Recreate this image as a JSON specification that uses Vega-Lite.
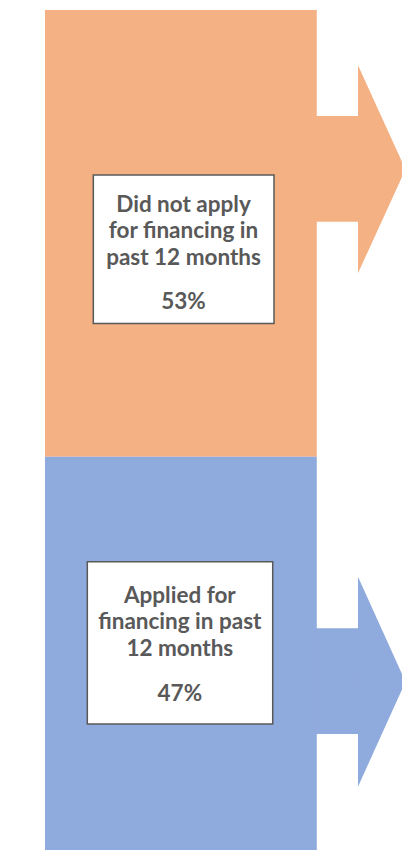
{
  "$schema": "https://vega.github.io/schema/vega-lite/v6.json",
  "width": 402,
  "height": 843,
  "autosize": {"type": "none"},
  "padding": {"left": 0, "right": 0, "top": 10, "bottom": 0},
  "background": "white",
  "config": {"view": {"stroke": null}},
  "datasets": {
    "shares": [
      {"category": "Did not apply for financing in past 12 months", "share": 53},
      {"category": "Applied for financing in past 12 months", "share": 47}
    ],
    "shafts": [
      {"category": "Did not apply for financing in past 12 months", "x_from": 78.6, "x_to": 89.1, "y_low": 74.89, "y_high": 87.43},
      {"category": "Applied for financing in past 12 months", "x_from": 78.6, "x_to": 89.1, "y_low": 14.12, "y_high": 26.65}
    ],
    "heads": [
      {"category": "Did not apply for financing in past 12 months", "x": 89.05, "y_low": 68.77, "y_high": 93.44},
      {"category": "Did not apply for financing in past 12 months", "x": 100.87, "y_low": 81.1, "y_high": 81.1},
      {"category": "Applied for financing in past 12 months", "x": 89.05, "y_low": 7.86, "y_high": 32.78},
      {"category": "Applied for financing in past 12 months", "x": 100.87, "y_low": 20.32, "y_high": 20.32}
    ],
    "boxes": [
      {"category": "Did not apply for financing in past 12 months", "label": "Did not apply|for financing in|past 12 months", "pct": "53%", "x_left": 23.21, "x_right": 68.16, "y_low": 62.81, "y_high": 80.43, "x_text": 45.65, "y_label": 76.07, "y_pct": 64.5},
      {"category": "Applied for financing in past 12 months", "label": "Applied for|financing in past|12 months", "pct": "47%", "x_left": 21.72, "x_right": 67.84, "y_low": 15.3, "y_high": 34.56, "x_text": 44.73, "y_label": 29.66, "y_pct": 18.03}
    ]
  },
  "layer": [
    {
      "data": {"name": "shares"},
      "transform": [
        {"stack": "share", "groupby": [], "as": ["lo", "hi"], "sort": [{"field": "category", "order": "ascending"}]}
      ],
      "mark": {"type": "rect"},
      "encoding": {
        "x": {"datum": 11.19, "type": "quantitative", "axis": null, "scale": {"domain": [0, 100], "nice": false, "zero": false}},
        "x2": {"datum": 78.8},
        "y": {"field": "lo", "type": "quantitative", "axis": null, "scale": {"domain": [0, 100], "nice": false, "zero": false}},
        "y2": {"field": "hi"},
        "color": {"field": "category", "type": "nominal", "legend": null, "scale": {"domain": ["Did not apply for financing in past 12 months", "Applied for financing in past 12 months"], "range": ["#F4B183", "#8FAADC"]}}
      }
    },
    {
      "data": {"name": "shafts"},
      "mark": {"type": "rect"},
      "encoding": {
        "x": {"field": "x_from", "type": "quantitative", "axis": null, "scale": {"domain": [0, 100], "nice": false, "zero": false}},
        "x2": {"field": "x_to"},
        "y": {"field": "y_low", "type": "quantitative", "axis": null, "scale": {"domain": [0, 100], "nice": false, "zero": false}},
        "y2": {"field": "y_high"},
        "color": {"field": "category", "type": "nominal", "legend": null, "scale": {"domain": ["Did not apply for financing in past 12 months", "Applied for financing in past 12 months"], "range": ["#F4B183", "#8FAADC"]}}
      }
    },
    {
      "data": {"name": "heads"},
      "mark": {"type": "area", "orient": "vertical", "clip": false},
      "encoding": {
        "x": {"field": "x", "type": "quantitative", "axis": null, "scale": {"domain": [0, 100], "nice": false, "zero": false}},
        "y": {"field": "y_high", "type": "quantitative", "axis": null, "scale": {"domain": [0, 100], "nice": false, "zero": false}},
        "y2": {"field": "y_low"},
        "color": {"field": "category", "type": "nominal", "legend": null, "scale": {"domain": ["Did not apply for financing in past 12 months", "Applied for financing in past 12 months"], "range": ["#F4B183", "#8FAADC"]}}
      }
    },
    {
      "data": {"name": "boxes"},
      "mark": {"type": "rect", "fill": "white", "stroke": "#595959", "strokeWidth": 1.5},
      "encoding": {
        "x": {"field": "x_left", "type": "quantitative", "axis": null, "scale": {"domain": [0, 100], "nice": false, "zero": false}},
        "x2": {"field": "x_right"},
        "y": {"field": "y_low", "type": "quantitative", "axis": null, "scale": {"domain": [0, 100], "nice": false, "zero": false}},
        "y2": {"field": "y_high"}
      }
    },
    {
      "data": {"name": "boxes"},
      "mark": {"type": "text", "font": "Lato", "fontWeight": "bold", "fontSize": 22.5, "color": "#595959", "align": "center", "baseline": "alphabetic", "lineBreak": "|", "lineHeight": 26.5},
      "encoding": {
        "x": {"field": "x_text", "type": "quantitative", "axis": null, "scale": {"domain": [0, 100], "nice": false, "zero": false}},
        "y": {"field": "y_label", "type": "quantitative", "axis": null, "scale": {"domain": [0, 100], "nice": false, "zero": false}},
        "text": {"field": "label", "type": "nominal"}
      }
    },
    {
      "data": {"name": "boxes"},
      "mark": {"type": "text", "font": "Lato", "fontWeight": "bold", "fontSize": 22.5, "color": "#595959", "align": "center", "baseline": "alphabetic"},
      "encoding": {
        "x": {"field": "x_text", "type": "quantitative", "axis": null, "scale": {"domain": [0, 100], "nice": false, "zero": false}},
        "y": {"field": "y_pct", "type": "quantitative", "axis": null, "scale": {"domain": [0, 100], "nice": false, "zero": false}},
        "text": {"field": "pct", "type": "nominal"}
      }
    }
  ]
}
